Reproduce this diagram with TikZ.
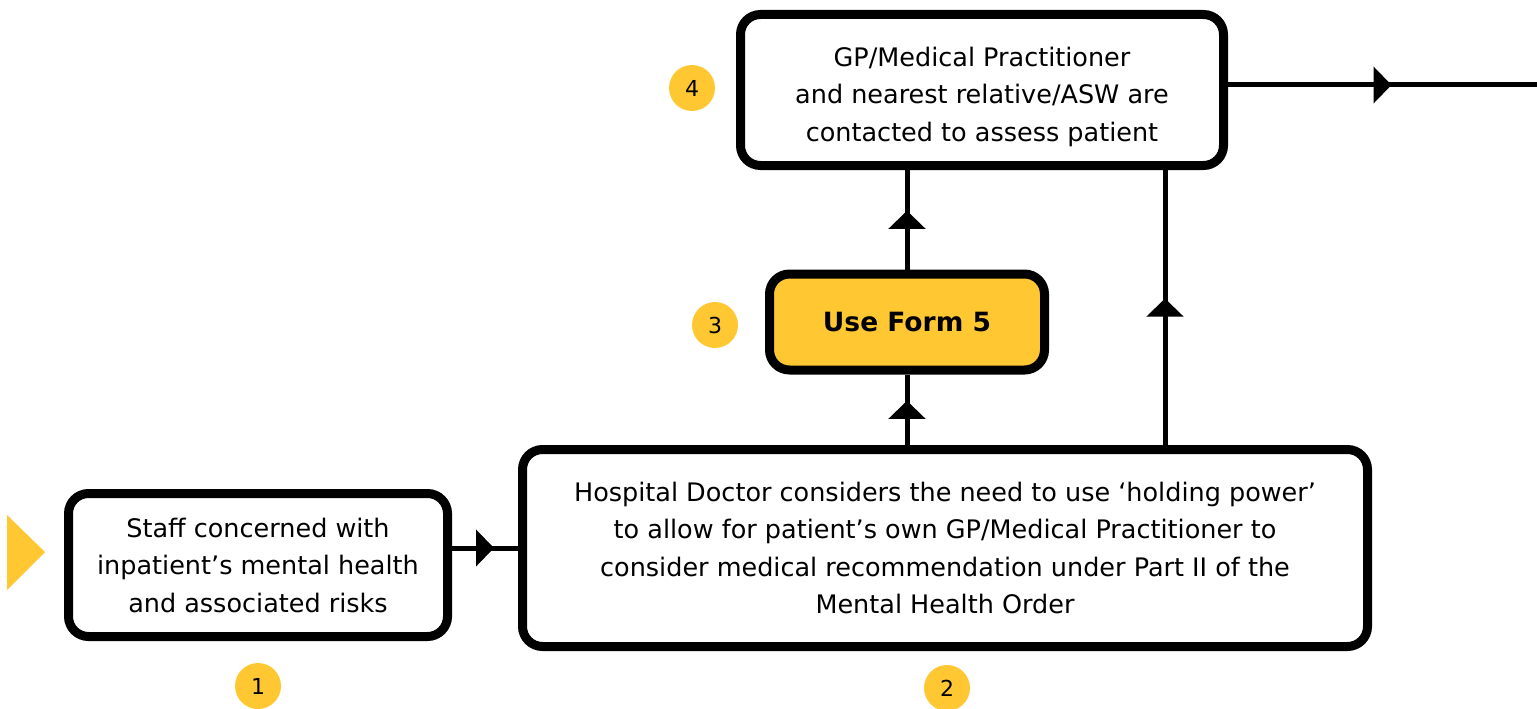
\documentclass[tikz,border=0pt]{standalone}
\usepackage{fontspec}
\setmainfont{DejaVu Sans}
\usetikzlibrary{arrows.meta,decorations.markings}
\definecolor{formyellow}{HTML}{FFC833}
\tikzset{
  stagebox/.style={draw, line width=9pt, rounded corners=20pt, fill=white,
    align=center, font=\fontsize{25.5}{37.5}\selectfont, inner sep=0pt},
  stepno/.style={circle, fill=formyellow, minimum size=46pt, inner sep=0pt,
    font=\fontsize{22}{26}\selectfont},
  flow/.style={line width=5pt, postaction={decorate}, decoration={markings,
    mark=at position 0.5 with {\arrow[xshift=9pt]{Triangle[length=18pt,width=36pt]}}}}
}

\begin{document}
\begin{tikzpicture}[x=1pt,y=-1pt]
\useasboundingbox (0,0) rectangle (1537,709);

\node (staff)  [stagebox, minimum width=379pt, minimum height=143pt] at (258,565)
  {Staff concerned with\\inpatient’s mental health\\and associated risks};
\node (doctor) [stagebox, minimum width=845pt, minimum height=197pt] at (945,548)
  {Hospital Doctor considers the need to use ‘holding power’\\to allow for patient’s own GP/Medical Practitioner to\\consider medical recommendation under Part II of the\\Mental Health Order};
\node (form)   [stagebox, fill=formyellow, minimum width=275pt, minimum height=96pt,
  font=\fontsize{26.5}{30}\selectfont\bfseries] at (907,322) {Use Form 5};
\node (gp)     [stagebox, minimum width=483pt, minimum height=151pt] at (982,90)
  {\raisebox{-6pt}[\height][\depth]{\begin{tabular}{@{}c@{}}GP/Medical Practitioner\\and nearest relative/ASW are\\contacted to assess patient\end{tabular}}};

\node (one)   [stepno] at (258,686) {1};
\node (two)   [stepno] at (947,688) {2};
\node (three) [stepno] at (715,325) {3};
\node (four)  [stepno] at (692,88)  {4};

% entry marker
\fill[formyellow] (7,515) -- (45,552) -- (7,590) -- cycle;

\coordinate (rline) at (1165,0);
\coordinate (exit)  at (1537,85);

\draw [flow] (staff.east |- doctor) -- (doctor.west);
\draw [flow] (doctor.north -| form) -- (form.south);
\draw [flow] (form.north) -- (gp.south -| form);
\draw [flow] (doctor.north -| rline) -- (gp.south -| rline);
\draw [flow] (gp.east |- exit) -- (exit);

\end{tikzpicture}
\end{document}
